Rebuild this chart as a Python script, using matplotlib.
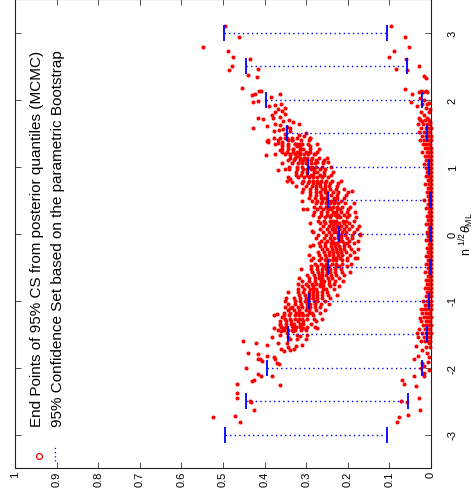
import matplotlib
matplotlib.use('Agg')
import matplotlib.pyplot as plt

plt.rcParams['font.family'] = ['Liberation Sans', 'DejaVu Sans']
plt.rcParams['mathtext.fontset'] = 'custom'
plt.rcParams['mathtext.rm'] = 'Liberation Sans'
plt.rcParams['mathtext.it'] = 'Liberation Sans:italic'

# ---------------- data ----------------
theta_grid = [-3, -2.5, -2, -1.5, -1, -0.5, 0, 0.5, 1, 1.5, 2, 2.5, 3]
boot_upper = [0.494, 0.444, 0.394, 0.344, 0.294, 0.247, 0.222, 0.247, 0.295, 0.345, 0.396, 0.445, 0.497]
boot_lower = [0.105, 0.056, 0.022, 0.009, 0.005, 0.003, 0.002, 0.003, 0.005, 0.009, 0.021, 0.057, 0.105]

value_ticks = [1, 0.9, 0.8, 0.7, 0.6, 0.5, 0.4, 0.3, 0.2, 0.1, 0]
value_labels = ['1', '0.9', '0.8', '0.7', '0.6', '0.5', '0.4', '0.3', '0.2', '0.1', '0']
theta_ticks = [-3, -2, -1, 0, 1, 2, 3]
theta_labels = ['-3', '-2', '-1', '0', '1', '2', '3']

# upper end points (MCMC), rows of (theta, values)
upper_rows = [
    (1.43, [0.291, 0.322, 0.333, 0.350, 0.363, 0.378]),
    (1.39, [0.294, 0.313, 0.335, 0.343, 0.368, 0.392]),
    (1.34, [0.275, 0.295, 0.310, 0.321, 0.328, 0.344, 0.357, 0.375]),
    (1.31, [0.290, 0.316, 0.323, 0.343, 0.357]),
    (1.26, [0.270, 0.291, 0.307, 0.315, 0.331, 0.343, 0.358]),
    (1.22, [0.274, 0.292, 0.300, 0.317, 0.323, 0.331, 0.346, 0.359]),
    (1.18, [0.281, 0.295, 0.306, 0.316, 0.326, 0.339, 0.352, 0.376]),
    (1.13, [0.249, 0.270, 0.286, 0.297, 0.306, 0.316, 0.327, 0.340]),
    (1.09, [0.257, 0.276, 0.288, 0.299, 0.308, 0.316, 0.329, 0.344]),
    (1.05, [0.260, 0.279, 0.288, 0.301, 0.309, 0.320, 0.334, 0.358]),
    (1.00, [0.241, 0.261, 0.276, 0.287, 0.294, 0.310, 0.323, 0.341]),
    (0.96, [0.255, 0.267, 0.281, 0.288, 0.298, 0.308, 0.322, 0.341]),
    (0.92, [0.236, 0.257, 0.273, 0.281, 0.297, 0.309, 0.324]),
    (0.87, [0.240, 0.258, 0.266, 0.283, 0.289, 0.297, 0.312, 0.325]),
    (0.84, [0.248, 0.262, 0.273, 0.283, 0.293, 0.306, 0.319, 0.343]),
    (0.79, [0.216, 0.237, 0.253, 0.264, 0.273, 0.283, 0.294, 0.307]),
    (0.75, [0.224, 0.243, 0.255, 0.266, 0.275, 0.283, 0.296, 0.311]),
    (0.71, [0.227, 0.246, 0.255, 0.268, 0.276, 0.287, 0.301, 0.325]),
    (0.66, [0.208, 0.228, 0.243, 0.254, 0.261, 0.277, 0.290, 0.308]),
    (0.62, [0.223, 0.235, 0.249, 0.256, 0.266, 0.276, 0.290, 0.309]),
    (0.58, [0.204, 0.225, 0.241, 0.249, 0.265, 0.277, 0.292]),
    (0.53, [0.208, 0.226, 0.234, 0.251, 0.257, 0.265, 0.280, 0.293]),
    (0.49, [0.216, 0.230, 0.241, 0.251, 0.261, 0.274, 0.287, 0.311]),
    (0.45, [0.186, 0.207, 0.223, 0.234, 0.243, 0.253, 0.264, 0.277]),
    (0.40, [0.194, 0.213, 0.225, 0.236, 0.245, 0.253, 0.266, 0.281]),
    (0.37, [0.199, 0.218, 0.227, 0.240, 0.248, 0.259, 0.273, 0.297]),
    (0.32, [0.182, 0.202, 0.217, 0.228, 0.235, 0.251, 0.264, 0.282]),
    (0.28, [0.198, 0.210, 0.224, 0.231, 0.241, 0.251, 0.265, 0.284]),
    (0.24, [0.181, 0.202, 0.218, 0.226, 0.242, 0.254, 0.269]),
    (0.19, [0.186, 0.204, 0.212, 0.229, 0.235, 0.243, 0.258, 0.271]),
    (0.15, [0.196, 0.210, 0.221, 0.231, 0.241, 0.254, 0.267, 0.291]),
    (0.11, [0.172, 0.189, 0.205, 0.216, 0.225, 0.235, 0.246, 0.259]),
    (0.06, [0.179, 0.198, 0.210, 0.221, 0.230, 0.238, 0.251, 0.266]),
    (0.02, [0.185, 0.204, 0.213, 0.226, 0.234, 0.245, 0.259, 0.283]),
    (-0.02, [0.171, 0.191, 0.206, 0.217, 0.224, 0.240, 0.253, 0.271]),
    (-0.06, [0.190, 0.202, 0.216, 0.223, 0.233, 0.243, 0.257, 0.276]),
    (-0.11, [0.176, 0.197, 0.213, 0.221, 0.237, 0.249, 0.264]),
    (-0.14, [0.184, 0.202, 0.210, 0.227, 0.233, 0.241, 0.256, 0.269]),
    (-0.19, [0.196, 0.210, 0.221, 0.231, 0.241, 0.254, 0.267, 0.291]),
    (-0.23, [0.175, 0.192, 0.208, 0.219, 0.228, 0.238, 0.249, 0.262]),
    (-0.27, [0.185, 0.204, 0.216, 0.227, 0.236, 0.244, 0.257, 0.272]),
    (-0.32, [0.195, 0.214, 0.223, 0.236, 0.244, 0.255, 0.269, 0.293]),
    (-0.36, [0.183, 0.203, 0.218, 0.229, 0.236, 0.252, 0.265, 0.283]),
    (-0.40, [0.203, 0.215, 0.229, 0.236, 0.246, 0.256, 0.270, 0.289]),
    (-0.45, [0.192, 0.213, 0.229, 0.237, 0.253, 0.265, 0.280]),
    (-0.49, [0.203, 0.221, 0.229, 0.246, 0.252, 0.260, 0.275, 0.288]),
    (-0.53, [0.217, 0.231, 0.242, 0.252, 0.262, 0.275, 0.288, 0.312]),
    (-0.58, [0.194, 0.215, 0.231, 0.242, 0.251, 0.261, 0.272, 0.285]),
    (-0.62, [0.210, 0.229, 0.241, 0.252, 0.261, 0.269, 0.282, 0.297]),
    (-0.66, [0.220, 0.239, 0.248, 0.261, 0.269, 0.280, 0.294, 0.318]),
    (-0.71, [0.211, 0.231, 0.246, 0.257, 0.264, 0.280, 0.293, 0.311]),
    (-0.75, [0.233, 0.245, 0.259, 0.266, 0.276, 0.286, 0.300, 0.319]),
    (-0.79, [0.222, 0.243, 0.259, 0.267, 0.283, 0.295, 0.310]),
    (-0.83, [0.234, 0.252, 0.260, 0.277, 0.283, 0.291, 0.306, 0.319]),
    (-0.88, [0.249, 0.263, 0.274, 0.284, 0.294, 0.307, 0.320, 0.344]),
    (-0.92, [0.226, 0.247, 0.263, 0.274, 0.283, 0.293, 0.304, 0.317]),
    (-0.96, [0.242, 0.261, 0.273, 0.284, 0.293, 0.301, 0.314, 0.329]),
    (-1.01, [0.254, 0.273, 0.282, 0.295, 0.303, 0.314, 0.328, 0.352]),
    (-1.05, [0.244, 0.264, 0.279, 0.290, 0.297, 0.313, 0.326, 0.344]),
    (-1.09, [0.266, 0.278, 0.292, 0.299, 0.309, 0.319, 0.333, 0.352]),
    (-1.14, [0.256, 0.277, 0.293, 0.301, 0.317, 0.329, 0.344]),
    (-1.18, [0.268, 0.286, 0.294, 0.311, 0.317, 0.325, 0.340, 0.353]),
    (-1.22, [0.283, 0.297, 0.308, 0.318, 0.328, 0.341, 0.354, 0.378]),
    (-1.27, [0.261, 0.282, 0.298, 0.309, 0.318, 0.328, 0.339, 0.352]),
    (-1.31, [0.277, 0.308, 0.319, 0.336, 0.349, 0.364]),
    (-1.35, [0.288, 0.307, 0.316, 0.329, 0.337, 0.348, 0.362]),
    (-1.40, [0.279, 0.299, 0.314, 0.325, 0.332, 0.348, 0.361]),
    (-1.44, [0.301, 0.313, 0.327, 0.334, 0.344, 0.354, 0.368]),
]

upper_extra_theta = [
    3.09, 2.93, 2.79, 2.72, 2.63, 2.60, 2.50, 2.44, 2.45, 2.36, 2.34, 2.17, 2.13, 2.12, 2.08, 2.06,
    2.08, 2.03, 1.96, 1.98, 1.94, 1.92, 1.90, 1.86, 1.81, 1.83, 1.77, 1.78, 1.74, 1.72, 1.73, 1.71,
    1.58, 1.61, 1.64, 1.62, 1.55, 1.53, 1.56, 1.49, 1.53, 1.66, 1.59, 1.57, 1.38, 1.36, 1.17, 1.35,
    1.37, 1.25, 1.42, 1.40, 1.34, 1.26, 1.34, 1.50, 1.42, 1.22, 1.20, 1.17, 1.15, 1.18, 1.07, 1.07,
    1.07, 0.95, 0.97, 0.82, 0.77, 0.79, 1.68, 1.69, 1.63, 1.47, 1.45, 1.88, 0.37, 0.03, -0.17, 0.00,
    -0.36, 0.62, 0.63,
    -1.60, -1.63, -1.79, -1.80, -1.88, -1.88, -1.91, -1.83, -1.85, -1.88, -1.93, -1.95, -2.00, -2.12,
    -2.10, -2.13, -2.19, -2.20, -2.26, -2.24, -2.38, -2.46, -2.50, -2.51, -2.64, -2.74, -2.72, -2.82,
    -1.55, -1.51, -1.41, -1.55, -1.46, -1.51, -1.63, -1.63, -1.58, -1.46, -1.38, -1.41, -1.38, -1.41,
    -1.51, -1.57, -1.53, -1.70, -1.74, -1.73, -1.73, -1.76, -1.41, -0.97, -1.11, -1.20, -1.25, -1.36,
    -1.41, -1.66, -1.48, -1.68, -1.67, -1.58,
]
upper_extra_value = [
    0.496, 0.462, 0.549, 0.489, 0.476, 0.434, 0.479, 0.485, 0.415, 0.441, 0.419, 0.454, 0.409, 0.413, 0.422, 0.431,
    0.364, 0.384, 0.428, 0.415, 0.360, 0.374, 0.389, 0.368, 0.375, 0.358, 0.383, 0.350, 0.363, 0.380, 0.415, 0.405,
    0.428, 0.395, 0.375, 0.363, 0.366, 0.377, 0.356, 0.352, 0.340, 0.332, 0.345, 0.339, 0.395, 0.391, 0.396, 0.367,
    0.359, 0.363, 0.345, 0.335, 0.327, 0.331, 0.315, 0.300, 0.291, 0.315, 0.295, 0.339, 0.323, 0.279, 0.275, 0.259,
    0.247, 0.367, 0.351, 0.340, 0.335, 0.347, 0.355, 0.342, 0.318, 0.318, 0.306, 0.352, 0.307, 0.287, 0.283, 0.170,
    0.177, 0.199, 0.190,
    0.451, 0.421, 0.440, 0.415, 0.410, 0.417, 0.407, 0.395, 0.377, 0.374, 0.369, 0.365, 0.444, 0.383,
    0.415, 0.408, 0.425, 0.431, 0.364, 0.467, 0.467, 0.467, 0.436, 0.433, 0.425, 0.525, 0.470, 0.460,
    0.383, 0.363, 0.355, 0.343, 0.331, 0.323, 0.367, 0.347, 0.339, 0.360, 0.335, 0.327, 0.315, 0.307,
    0.299, 0.300, 0.316, 0.344, 0.340, 0.329, 0.361, 0.353, 0.275, 0.348, 0.339, 0.371, 0.359, 0.364,
    0.377, 0.395, 0.345, 0.325, 0.310, 0.322,
]

# lower end points (MCMC), rows of (theta, values)
lower_rows = [
    (1.70, [0.004, 0.015, 0.027]), (1.64, [0.002, 0.009, 0.020, 0.031]),
    (1.58, [0.001, 0.006, 0.013, 0.024]), (1.52, [0.002, 0.008, 0.016, 0.030]),
    (1.46, [0.001, 0.005, 0.011, 0.021]), (1.40, [0.001, 0.004, 0.009, 0.017, 0.026]),
    (1.34, [0.002, 0.006, 0.012, 0.019]), (1.28, [0.001, 0.004, 0.009, 0.015]),
    (1.22, [0.001, 0.005, 0.010, 0.022]), (1.16, [0.001, 0.004, 0.008, 0.014]),
    (1.10, [0.001, 0.003, 0.007, 0.012]), (1.04, [0.001, 0.004, 0.008, 0.018]),
    (0.98, [0.000, 0.003, 0.007, 0.011]), (0.92, [0.001, 0.004, 0.009]),
    (0.86, [0.000, 0.003, 0.006, 0.012]), (0.80, [0.001, 0.004, 0.008]),
    (0.74, [0.000, 0.003, 0.006, 0.014]), (0.68, [0.001, 0.003, 0.007]),
    (0.62, [0.000, 0.002, 0.005, 0.010]), (0.56, [0.001, 0.004, 0.008]),
    (0.50, [0.000, 0.002, 0.005, 0.016]), (0.44, [0.001, 0.003, 0.007]),
    (0.38, [0.000, 0.002, 0.005, 0.011]), (0.32, [0.001, 0.003, 0.006]),
    (0.26, [0.000, 0.002, 0.005, 0.009]), (0.20, [0.001, 0.003, 0.007]),
    (0.14, [0.000, 0.002, 0.005, 0.012]), (0.08, [0.001, 0.003, 0.006]),
    (0.02, [0.000, 0.002, 0.005, 0.010]), (-0.04, [0.001, 0.003, 0.007]),
    (-0.10, [0.000, 0.002, 0.005, 0.013]), (-0.16, [0.001, 0.003, 0.006]),
    (-0.22, [0.000, 0.002, 0.005, 0.010]), (-0.28, [0.001, 0.004, 0.007]),
    (-0.34, [0.000, 0.002, 0.006, 0.012]), (-0.40, [0.001, 0.003, 0.007]),
    (-0.46, [0.000, 0.002, 0.005, 0.011]), (-0.52, [0.001, 0.004, 0.008]),
    (-0.58, [0.000, 0.003, 0.006, 0.015]), (-0.64, [0.001, 0.004, 0.008]),
    (-0.70, [0.000, 0.003, 0.006, 0.012]), (-0.76, [0.001, 0.004, 0.009]),
    (-0.82, [0.000, 0.003, 0.007, 0.014]), (-0.88, [0.001, 0.004, 0.009]),
    (-0.94, [0.000, 0.003, 0.007, 0.013]), (-1.00, [0.001, 0.005, 0.010, 0.020]),
    (-1.06, [0.001, 0.004, 0.008, 0.014]), (-1.12, [0.001, 0.005, 0.011, 0.018]),
    (-1.18, [0.002, 0.006, 0.012, 0.022]), (-1.24, [0.001, 0.005, 0.010, 0.017]),
    (-1.30, [0.002, 0.007, 0.013, 0.025]), (-1.36, [0.001, 0.005, 0.011, 0.019]),
    (-1.42, [0.002, 0.008, 0.015, 0.028]), (-1.48, [0.001, 0.006, 0.012, 0.021]),
    (-1.54, [0.003, 0.009, 0.017, 0.031]), (-1.60, [0.002, 0.007, 0.014, 0.024]),
]

lower_extra_theta = [
    3.09, 2.93, 2.79, 2.72, 2.63, 2.60, 2.46, 2.44, 2.50, 2.35, 2.32, 2.16, 2.08, 1.97, 2.11, 2.13,
    2.11, 2.13, 2.11, 2.02, 1.99, 1.93, 1.93, 1.91, 1.87, 1.82, 1.81, 1.77, 1.73, 1.72, 1.68, 1.67,
    1.86, 1.95,
    -1.13, -1.26, -1.48, -1.68, -1.74, -1.70, -1.88, -1.83, -1.93, -1.98, -2.00, -2.08, -2.13, -2.13,
    -2.27, -2.18, -2.25, -2.50, -2.52, -2.46, -2.64, -2.71, -2.74, -2.82, -1.85, -1.78, -1.63, -1.70,
    -1.92, -2.03,
]
lower_extra_value = [
    0.097, 0.062, 0.052, 0.088, 0.100, 0.061, 0.084, 0.057, 0.029, 0.016, 0.013, 0.063, 0.046, 0.049, 0.029, 0.025,
    0.019, 0.013, 0.009, 0.027, 0.017, 0.021, 0.009, 0.033, 0.013, 0.025, 0.005, 0.017, 0.029, 0.009, 0.021, 0.003,
    0.003, 0.004,
    0.025, 0.027, 0.033, 0.035, 0.021, 0.013, 0.041, 0.031, 0.021, 0.017, 0.023, 0.017, 0.041, 0.017,
    0.035, 0.069, 0.065, 0.072, 0.057, 0.029, 0.027, 0.056, 0.078, 0.082, 0.005, 0.009, 0.005, 0.003,
    0.008, 0.006,
]

legend_labels = ['End Points of 95% CS from posterior quantiles (MCMC)',
                 '95% Confidence Set based on the parametric Bootstrap']

# ---------------- build point lists ----------------
pts_theta = []
pts_value = []
for rows in (upper_rows, lower_rows):
    for th, vals in rows:
        for v in vals:
            pts_theta.append(th)
            pts_value.append(v)
pts_theta += upper_extra_theta + lower_extra_theta
pts_value += upper_extra_value + lower_extra_value

# ---------------- figure ----------------
fig = plt.figure(figsize=(4.75, 5.02), dpi=100)
ax = fig.add_axes([15 / 475, 33 / 502, 416 / 475, 469 / 502])

red = '#ff0000'
blue = '#0000ff'

ax.plot(pts_value, pts_theta, linestyle='none', marker='o', ms=2.9, mew=0,
        color=red, clip_on=False, zorder=2)

for th, lo, hi in zip(theta_grid, boot_lower, boot_upper):
    ax.plot([hi, lo], [th, th], color=blue, lw=1.0, linestyle=(0, (1, 2.3)), zorder=3)
ax.plot(boot_upper, theta_grid, linestyle='none', marker='|', ms=11.5, mew=1.3, color=blue, zorder=4)
ax.plot(boot_lower, theta_grid, linestyle='none', marker='|', ms=11.5, mew=1.3, color=blue, zorder=4)

ax.set_xlim(1, 0)
ax.set_ylim(-3.5, 3.5)

ax.set_xticks(value_ticks)
ax.set_xticklabels(value_labels, rotation=90)
ax.set_yticks(theta_ticks)
ax.set_yticklabels(theta_labels, rotation=90, va='center')
ax.yaxis.tick_right()
ax.yaxis.set_label_position('right')
ax.tick_params(axis='both', direction='in', length=4, width=0.6, color='#333333',
               labelsize=8, top=True, bottom=True, left=True, right=True)
ax.tick_params(axis='x', pad=2)
ax.tick_params(axis='y', labelleft=False, labelright=True, pad=12)
for sp in ax.spines.values():
    sp.set_linewidth(0.8)
    sp.set_color('#222222')

ax.set_ylabel(r'n ${}^{1/2}\theta_{\mathrm{ML}}$', rotation=90, fontsize=9, labelpad=0)

# legend (drawn rotated like the rest of the figure)
ax.plot([0.0577], [0.0256], transform=ax.transAxes, marker='o', ms=4.2, mfc='none',
        mec=red, mew=0.9, clip_on=False, zorder=5)
ax.plot([0.096, 0.096], [0.015, 0.045], transform=ax.transAxes, color=blue, lw=0.9,
        linestyle=(0, (1, 2.3)), zorder=5)
ax.text(0.0529, 0.0896, legend_labels[0], transform=ax.transAxes, rotation=90,
        ha='center', va='bottom', fontsize=11)
ax.text(0.1035, 0.0896, legend_labels[1], transform=ax.transAxes, rotation=90,
        ha='center', va='bottom', fontsize=11)

fig.savefig('out.png', dpi=100)
